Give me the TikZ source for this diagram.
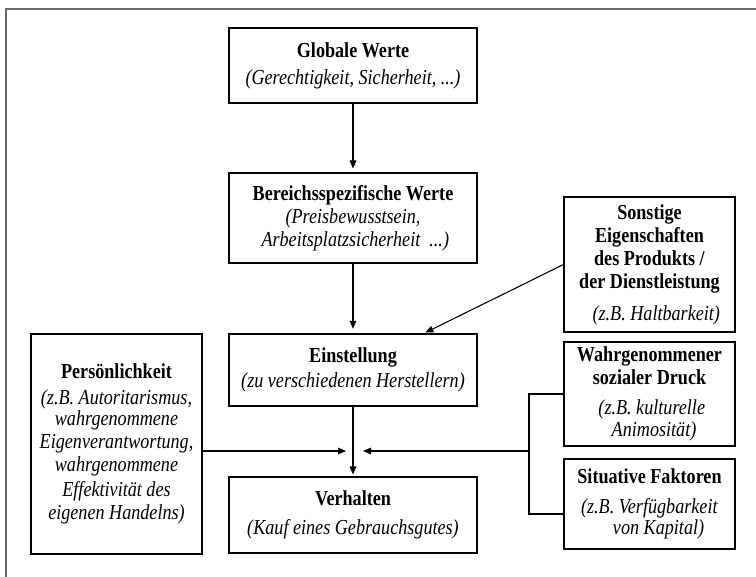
\documentclass[tikz,border=0pt]{standalone}
\usepackage{fontspec}
\setmainfont{Liberation Serif}[FakeStretch=0.85]
\usetikzlibrary{arrows.meta}

\definecolor{framegray}{RGB}{105,105,105}
\tikzset{
    box/.style={draw, line width=0.8pt, fill=white, align=center, inner sep=2pt,
        font=\fontsize{16}{17.25}\selectfont},
    widebox/.style={box, minimum width=186pt},
    sidebox/.style={box, minimum width=128.25pt},
    link/.style={line width=0.8pt},
    arr/.style={link, -{Triangle[length=6pt,width=5pt]}},
}

\begin{document}
\begin{tikzpicture}[x=0.75pt, y=-0.75pt]
    \useasboundingbox (0,0) rectangle (756,577);

    % Frame
    \draw[framegray, line width=1.5pt] (6,577) -- (6,9) -- (756,9);

    % Draw nodes
    \node[widebox, minimum height=56.25pt] (glob) at (353,65.5)
        {\textbf{Globale Werte}\\[3pt]\textit{(Gerechtigkeit, Sicherheit, ...)}};
    \node[widebox, minimum height=67.5pt] (bereich) at (353,218)
        {\textbf{Bereichsspezifische Werte}\\\textit{(Preisbewusstsein,}\\\textit{\ Arbeitsplatzsicherheit\ \ ...)}};
    \node[widebox, minimum height=54pt] (einst) at (353,370)
        {\textbf{Einstellung}\\[1.5pt]\textit{(zu verschiedenen\ Herstellern)}};
    \node[widebox, minimum height=57pt] (verh) at (353,515)
        {\textbf{Verhalten}\\[4.5pt]\textit{(Kauf eines\ Gebrauchsgutes)}};

    \node[sidebox, minimum height=165pt] (pers) at (116.5,444)
        {\textbf{Persönlichkeit}\\[2.75pt]\textit{(z.B. Autoritarismus,}\\[-1.5pt]\textit{wahrgenommene}\\
         \textit{Eigenverantwortung,}\\\textit{wahrgenommene}\\[1.5pt]\textit{Effektivität\ des}\\\textit{eigenen Handelns)}};

    \node[sidebox, minimum height=101.25pt] (sonst) at (649.5,264.5)
        {\textbf{Sonstige}\\\textbf{Eigenschaften}\\\textbf{des Produkts /}\\\textbf{der Dienstleistung}\\[6.75pt]\textit{\ \ \ (z.B. Haltbarkeit)}};
    \node[sidebox, minimum height=78pt] (wahr) at (649.5,394)
        {\textbf{Wahrgenommener}\\\textbf{sozialer Druck}\\[5pt]\textit{\ (z.B. kulturelle}\\[-1pt]\textit{\ \ Animosität)}};
    \node[sidebox, minimum height=67.5pt] (situ) at (649.5,504)
        {\textbf{Situative Faktoren}\\[5.25pt]\textit{(z.B. Verfügbarkeit}\\[-1.5pt]\textit{\ \ \ \ von Kapital)}};

    % Junction points
    \coordinate (hub) at (354,451);
    \coordinate (bar) at (529,451);

    % Draw connections
    \draw[arr, shorten >=3pt] (glob) -- (bereich);
    \draw[arr, shorten >=3.5pt] (bereich) -- (einst);
    \draw[arr, shorten >=1.5pt] (sonst.west) -- ([xshift=53pt]einst.north);
    \draw[arr, shorten >=1.5pt] (einst) -- (verh);
    \draw[arr] (pers.east |- hub) -- ([xshift=-6pt]hub);
    \draw[link] (wahr.west) -| (bar) |- ([yshift=-7.5pt]situ.west);
    \draw[arr] (bar) -- ([xshift=6.75pt]hub);
\end{tikzpicture}
\end{document}
